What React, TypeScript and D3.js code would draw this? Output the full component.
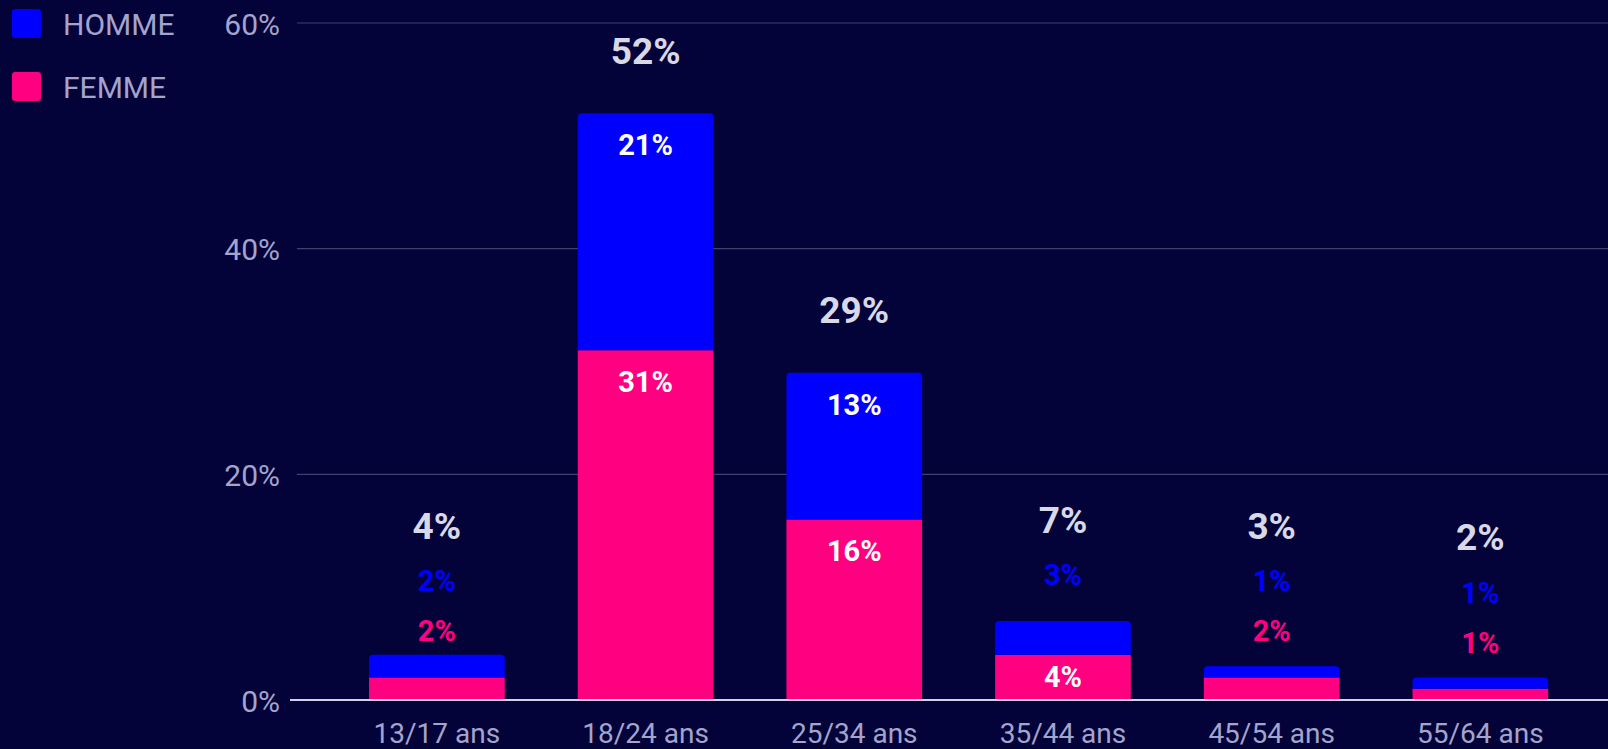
import React from "react";
import * as d3 from "d3";

const categories = ["13/17 ans", "18/24 ans", "25/34 ans", "35/44 ans", "45/54 ans", "55/64 ans"];
const homme = [2, 21, 13, 3, 1, 1];
const femme = [2, 31, 16, 4, 2, 1];
const yTicks = [0, 20, 40, 60];
const seriesNames = ["HOMME", "FEMME"];

const W = 1608;
const H = 749;
const BG = "#03033a";
const BLUE = "#0000ff";
const PINK = "#ff0080";
const AXIS_TEXT = "#a4a4cc";
const TOTAL_TEXT = "#d8d8e6";
const FONT = "Roboto, 'Noto Sans', sans-serif";

function topRoundedRect(x: number, y: number, w: number, h: number, r: number) {
  const rr = Math.min(r, h, w / 2);
  return `M${x},${y + h}V${y + rr}Q${x},${y} ${x + rr},${y}H${x + w - rr}Q${x + w},${y} ${x + w},${y + rr}V${y + h}Z`;
}

export default function App() {
  const x = d3.scaleBand<string>().domain(categories).range([296, 296 + 6.35 * 208.7]).padding(0.35);
  const y = d3.scaleLinear().domain([0, 60]).range([700, 23]);
  const bw = x.bandwidth();

  const bars = categories.map((c, i) => {
    const f = femme[i];
    const m = homme[i];
    const segs = [
      { y0: 0, y1: f, v: f, color: PINK },
      { y0: f, y1: f + m, v: m, color: BLUE },
    ];
    const labels: { y: number; text: string; color: string }[] = [];
    let lastOut: number | null = null;
    segs.forEach((s) => {
      const top = y(s.y1);
      const h = y(s.y0) - top;
      if (h >= 40) {
        labels.push({ y: top + Math.min(32, h / 2), text: `${s.v}%`, color: "#ffffff" });
      } else {
        let d = top - 46;
        if (lastOut !== null) d = Math.min(d, lastOut - 50);
        lastOut = d;
        labels.push({ y: d, text: `${s.v}%`, color: s.color });
      }
    });
    const total = f + m;
    let ty = y(total) - 62;
    if (lastOut !== null) ty = Math.min(ty, (lastOut as number) - 55);
    return { c, segs, labels, total, ty };
  });

  return (
    <svg width={W} height={H} style={{ position: "absolute", left: 0, top: 0, display: "block" }} fontFamily={FONT}>
      <rect x={0} y={0} width={W} height={H} fill={BG} />
      {yTicks.map((t) => (
        <g key={t}>
          {t !== 0 && <line x1={297} x2={W} y1={y(t)} y2={y(t)} stroke="#40406f" strokeWidth={1.2} />}
          <text x={280} y={y(t) + 1} textAnchor="end" dominantBaseline="central" fill={AXIS_TEXT} fontSize={30}>
            {t}%
          </text>
        </g>
      ))}
      {bars.map((b) => {
        const x0 = x(b.c)!;
        return (
          <g key={b.c}>
            {b.segs.map((s, j) => {
              const top = y(s.y1);
              const h = y(s.y0) - top;
              return j === b.segs.length - 1 ? (
                <path key={j} d={topRoundedRect(x0, top, bw, h, 4)} fill={s.color} />
              ) : (
                <rect key={j} x={x0} y={top} width={bw} height={h} fill={s.color} />
              );
            })}
            {b.labels.map((l, k) => (
              <text key={k} x={x0 + bw / 2} y={l.y} textAnchor="middle" dominantBaseline="central" fill={l.color} fontSize={29} fontWeight={700}>
                {l.text}
              </text>
            ))}
            <text x={x0 + bw / 2} y={b.ty} textAnchor="middle" dominantBaseline="central" fill={TOTAL_TEXT} fontSize={37} fontWeight={700}>
              {b.total}%
            </text>
            <text x={x0 + bw / 2} y={733} textAnchor="middle" dominantBaseline="central" fill={AXIS_TEXT} fontSize={28}>
              {b.c}
            </text>
          </g>
        );
      })}
      <line x1={290} x2={W} y1={y(0)} y2={y(0)} stroke="#d0d0e6" strokeWidth={2} />
      {seriesNames.map((n, i) => (
        <g key={n}>
          <rect x={12} y={9 + i * 63} width={29} height={29} rx={3} fill={i === 0 ? BLUE : PINK} />
          <text x={63} y={24 + i * 63} dominantBaseline="central" fill={AXIS_TEXT} fontSize={30}>
            {n}
          </text>
        </g>
      ))}
    </svg>
  );
}
